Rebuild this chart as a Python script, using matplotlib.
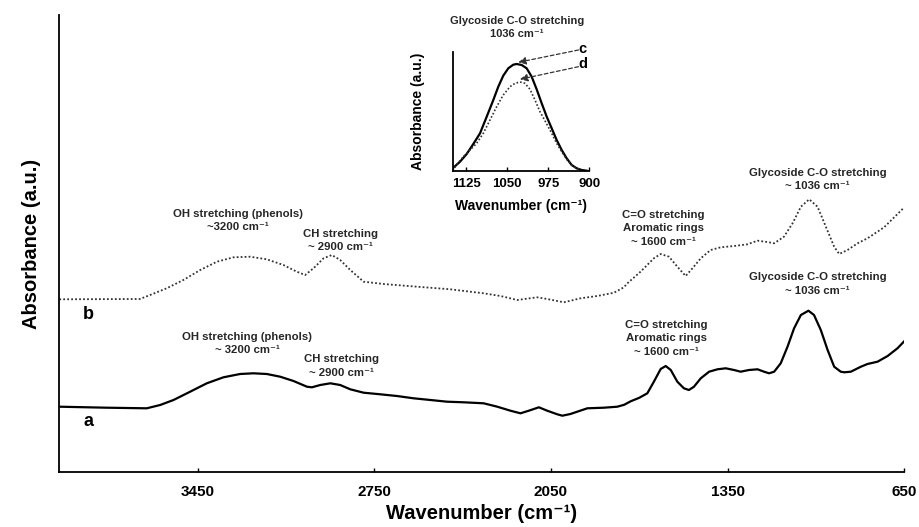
import matplotlib
matplotlib.use("Agg")
import matplotlib.pyplot as plt

plt.rcParams['font.family'] = ['Liberation Sans', 'DejaVu Sans']

# ---- main spectra (wavenumber, absorbance a.u.) ----
wn_a = [4000, 3944, 3812, 3653, 3600, 3547, 3481, 3415, 3349, 3283, 3230, 3177, 3124, 3071,
        3018, 2998, 2965, 2925, 2886, 2846, 2793, 2727, 2661, 2595, 2528, 2462, 2396, 2317,
        2263, 2211, 2171, 2138, 2098, 2065, 2025, 2005, 1973, 1906, 1840, 1787, 1760, 1734,
        1700, 1668, 1642, 1615, 1595, 1575, 1549, 1523, 1503, 1483, 1456, 1423, 1390, 1357,
        1324, 1298, 1265, 1231, 1205, 1185, 1165, 1139, 1112, 1086, 1059, 1029, 1007, 980,
        953, 927, 901, 887, 861, 821, 795, 755, 715, 676, 647]
abs_a = [65.6, 65.3, 64.6, 64.0, 67.3, 72.3, 80.6, 89, 95, 98.3, 99, 98.3, 95.6, 91.3,
         85.6, 85, 87.3, 89, 87.3, 83, 79.6, 78, 76.3, 74, 72.3, 70.6, 70, 69,
         65.6, 61.6, 59, 61.6, 65, 61.6, 58, 56.6, 58.3, 64, 64.6, 65.6, 67.5, 71,
         74.5, 79, 90.6, 103.3, 106.3, 102.3, 90.6, 84, 82.3, 85.6, 94, 100.6, 103, 104,
         102.3, 100.6, 102.3, 103, 100.6, 99, 100.6, 109, 125.6, 144, 157.3, 161.6, 157.3, 142.3,
         122.3, 105.6, 100.6, 100, 100.6, 105.6, 108.3, 110.6, 116.3, 124, 131.6]

wn_b = [4000, 3800, 3680, 3640, 3574, 3508, 3441, 3375, 3309, 3243, 3177, 3111, 3058, 3025,
        2992, 2952, 2919, 2886, 2846, 2793, 2714, 2581, 2449, 2317, 2250, 2184, 2105, 2065,
        1999, 1933, 1867, 1801, 1761, 1747, 1695, 1642, 1615, 1582, 1549, 1516, 1489, 1456,
        1417, 1377, 1324, 1271, 1231, 1192, 1165, 1126, 1092, 1059, 1026, 993, 960, 927,
        907, 874, 834, 795, 729, 649]
abs_b = [173, 173.2, 173.3, 177.3, 184, 192.3, 202.3, 210.6, 215, 215.6, 213, 207.3, 200.6, 197.3,
         204, 214, 217.3, 212.3, 202.3, 190.6, 188.3, 185.6, 183, 179, 176.3, 172.3, 175, 173.3,
         170, 174, 176.3, 179.5, 185, 189, 200.6, 214, 218.3, 215.6, 205.6, 196.3, 204, 214,
         222.3, 225, 226.3, 228, 231.6, 230.3, 229, 235.6, 249, 265.6, 273, 265.6, 245.6, 225.6,
         218.3, 222.3, 229, 234, 245, 265]

# ---- inset spectra ----
wn_c = [1150, 1136.6, 1124.4, 1112.3, 1100, 1087.8, 1075.7, 1066.6, 1057.5, 1048.3, 1039.2, 1033,
        1023.8, 1014.7, 1005.5, 996.4, 987.2, 978, 968.9, 959.8, 950.6, 941.5, 932.4, 923.2,
        914.1, 905]
abs_c = [2.4, 9, 16.7, 26.7, 37.4, 54, 70.7, 84, 95, 102.4, 106, 106.7,
         105.7, 102.4, 94, 81.4, 67.4, 54, 42.4, 30.7, 20.7, 12.4, 5.7, 2.4,
         0.7, 0]
wn_d = [1150, 1140.9, 1130.6, 1118.4, 1106.2, 1094, 1081.8, 1069.6, 1057.5, 1045.2, 1036, 1026.9,
        1017.8, 1008.6, 999.5, 990.3, 978, 968.9, 959.8, 950.6, 941.5, 932.4, 923.2, 914.1]
abs_d = [0, 7.4, 14, 20.7, 27.4, 37.4, 50.7, 64, 75.7, 84, 87.4, 88.7,
         87.4, 81.4, 70.7, 59, 46.7, 37.4, 27.4, 19, 11.4, 5.7, 2.4, 0]

main_ticks = [3450, 2750, 2050, 1350, 650]
inset_ticks = [1125, 1050, 975, 900]

cm = 'cm\u207b\u00b9'
txt_col = '#262626'

fig = plt.figure(figsize=(9.19, 5.27), dpi=100)
ax = fig.add_axes([0.0645, 0.1038, 0.9192, 0.8677])
ax.plot(wn_a, abs_a, color='black', lw=1.6, solid_joinstyle='round')
ax.plot(wn_b, abs_b, color='#333333', lw=1.3, ls=(0, (1, 1.2)))
ax.set_xlim(4000, 650)
ax.set_ylim(0, 457.3)
ax.set_xticks(main_ticks)
ax.set_xticklabels([str(t) for t in main_ticks], fontsize=11, fontweight='bold')
ax.set_yticks([])
ax.tick_params(axis='x', direction='in', length=3, width=1, pad=9)
for s in ['top', 'right']:
    ax.spines[s].set_visible(False)
for s in ['left', 'bottom']:
    ax.spines[s].set_linewidth(1.3)
ax.set_xlabel('Wavenumber (' + cm + ')', fontsize=14.5, fontweight='bold')
ax.xaxis.set_label_coords(0.5, -0.07)
ax.set_ylabel('Absorbance (a.u.)', fontsize=14.5, fontweight='bold')
ax.yaxis.set_label_coords(-0.022, 0.5)

ax.text(3885, 158, 'b', fontsize=13, fontweight='bold', ha='center', va='center')
ax.text(3885, 50.6, 'a', fontsize=13, fontweight='bold', ha='center', va='center')

kw = dict(fontsize=8.2, fontweight='bold', ha='center', va='center', color=txt_col, linespacing=1.45)
# curve b annotations
ax.text(3290, 252, 'OH stretching (phenols)\n~3200 ' + cm, **kw)
ax.text(2886, 232, 'CH stretching\n~ 2900 ' + cm, **kw)
ax.text(1603, 244, 'C=O stretching\nAromatic rings\n~ 1600 ' + cm, **kw)
ax.text(993, 292.8, 'Glycoside C-O stretching\n~ 1036 ' + cm, **kw)
# curve a annotations
ax.text(3256, 129, 'OH stretching (phenols)\n~ 3200 ' + cm, **kw)
ax.text(2882, 106.3, 'CH stretching\n~ 2900 ' + cm, **kw)
ax.text(1591, 134, 'C=O stretching\nAromatic rings\n~ 1600 ' + cm, **kw)
ax.text(993, 188.3, 'Glycoside C-O stretching\n~ 1036 ' + cm, **kw)

# ---- inset ----
ins = fig.add_axes([0.4926, 0.6761, 0.1487, 0.2258])
ins.plot(wn_c, abs_c, color='black', lw=1.6)
ins.plot(wn_d, abs_d, color='#333333', lw=1.2, ls=(0, (1, 1.2)))
ins.set_xlim(1150, 900)
ins.set_ylim(0, 119)
ins.set_xticks(inset_ticks)
ins.set_xticklabels([str(t) for t in inset_ticks], fontsize=9.5, fontweight='bold')
ins.set_yticks([])
ins.tick_params(axis='x', direction='in', length=3, width=1, pad=5)
for s in ['top', 'right']:
    ins.spines[s].set_visible(False)
for s in ['left', 'bottom']:
    ins.spines[s].set_linewidth(1.3)
ins.set_xlabel('Wavenumber (' + cm + ')', fontsize=10, fontweight='bold')
ins.xaxis.set_label_coords(0.5, -0.235)
ins.set_ylabel('Absorbance (a.u.)', fontsize=10, fontweight='bold')
ins.yaxis.set_label_coords(-0.203, 0.5)
fig.text(516.7 / 919, 1 - 27.5 / 527, 'Glycoside C-O stretching\n1036 ' + cm,
         fontsize=8, fontweight='bold', ha='center', va='center', color=txt_col, linespacing=1.35)

arrow = dict(arrowstyle='-|>,head_length=0.45,head_width=0.22', ls=(0, (3, 2)), lw=0.9,
             color='#333333', shrinkA=0, shrinkB=0)
ins.annotate('', xy=(1030, 108.4), xytext=(920, 120.7), arrowprops=arrow, annotation_clip=False)
ins.annotate('', xy=(1027, 91.4), xytext=(920, 104), arrowprops=arrow, annotation_clip=False)
ins.text(912, 121.5, 'c', fontsize=10.5, fontweight='bold', ha='center', va='center', clip_on=False)
ins.text(912, 107, 'd', fontsize=10.5, fontweight='bold', ha='center', va='center', clip_on=False)

fig.savefig('out.png', dpi=100)
